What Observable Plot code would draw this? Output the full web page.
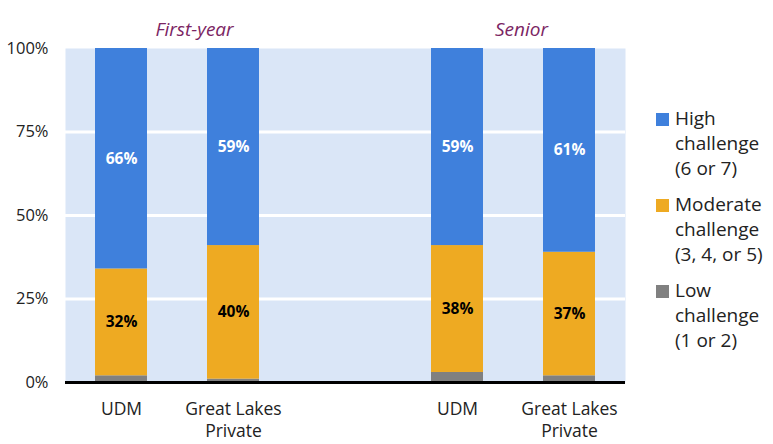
<!DOCTYPE html>
<html>
<head>
<meta charset="utf-8">
<script src="https://cdn.jsdelivr.net/npm/d3@7"></script>
<script src="https://cdn.jsdelivr.net/npm/@observablehq/plot@0.6"></script>
<style>
  body { margin: 0; background: #fff; font-family: "Open Sans", sans-serif; }
  #wrap { position: relative; width: 773px; height: 444px; }
  #legend { position: absolute; left: 656px; top: 106px; font-size: 19px; color: #222; line-height: 25px; }
  .item { display: flex; align-items: flex-start; margin-bottom: 11px; }
  .sw { width: 13px; height: 13px; margin-top: 7px; margin-right: 6px; flex: none; }
</style>
</head>
<body>
<div id="wrap"><div id="legend"></div></div>
<script>
const keys = ["FY-UDM", "FY-GLP", "SR-UDM", "SR-GLP"];
const xDomain = ["FY-UDM", "FY-GLP", "gap", "SR-UDM", "SR-GLP"];
const tickLabels = ["UDM", "Great Lakes\nPrivate", "", "UDM", "Great Lakes\nPrivate"];
const groupTitles = ["First-year", "Senior"];
const levels = ["Low", "Moderate", "High"];
const legendLabels = {
  High: ["High", "challenge", "(6 or 7)"],
  Moderate: ["Moderate", "challenge", "(3, 4, or 5)"],
  Low: ["Low", "challenge", "(1 or 2)"]
};
const colors = ["#808080", "#EEAA22", "#3F80DC"];
const low = [2, 1, 3, 2];
const moderate = [32, 40, 38, 37];
const high = [66, 59, 59, 61];

const data = [];
keys.forEach((k, i) => {
  data.push({key: k, level: "Low", value: low[i]});
  data.push({key: k, level: "Moderate", value: moderate[i]});
  data.push({key: k, level: "High", value: high[i]});
});

const chart = Plot.plot({
  width: 773,
  height: 444,
  marginLeft: 65,
  marginRight: 148,
  marginTop: 48,
  marginBottom: 62,
  style: {fontFamily: "'Open Sans', sans-serif", color: "#222", background: "white"},
  x: {domain: xDomain, paddingInner: 0.536, paddingOuter: 0.268, label: null},
  y: {domain: [0, 100], label: null},
  color: {domain: levels, range: colors},
  marks: [
    Plot.frame({fill: "#DAE6F7", stroke: null}),
    Plot.ruleY([25, 50, 75], {stroke: "white", strokeWidth: 3}),
    Plot.barY(data, Plot.stackY({x: "key", y: "value", z: "level", fill: "level", order: levels})),
    Plot.text(data, Plot.stackY({x: "key", y: "value", z: "level", order: levels,
      text: d => d.level === "High" ? d.value + "%" : null,
      fill: "white", fontWeight: "bold", fontSize: 15.5})),
    Plot.text(data, Plot.stackY({x: "key", y: "value", z: "level", order: levels,
      text: d => d.level === "Moderate" ? d.value + "%" : null,
      fill: "black", fontWeight: "bold", fontSize: 15.5})),
    Plot.ruleY([0], {stroke: "black", strokeWidth: 3}),
    Plot.axisY({ticks: [0, 25, 50, 75, 100], tickFormat: d => d + "%", tickSize: 0, tickPadding: 17, fontSize: 16.5, fill: "#222"}),
    Plot.axisX({tickSize: 0, tickPadding: 16, fontSize: 17.5, lineHeight: 1.3, fill: "#222",
      tickFormat: d => tickLabels[xDomain.indexOf(d)]}),
    Plot.text([groupTitles[0]], {x: () => keys[0], text: d => d, frameAnchor: "top", dy: -26, dx: 73,
      fontStyle: "italic", fill: "#7B2563", fontSize: 19}),
    Plot.text([groupTitles[1]], {x: () => keys[2], text: d => d, frameAnchor: "top", dy: -26, dx: 64,
      fontStyle: "italic", fill: "#7B2563", fontSize: 19})
  ]
});
document.getElementById("wrap").prepend(chart);

const legend = document.getElementById("legend");
["High", "Moderate", "Low"].forEach(l => {
  const item = document.createElement("div");
  item.className = "item";
  const sw = document.createElement("div");
  sw.className = "sw";
  sw.style.background = colors[levels.indexOf(l)];
  const t = document.createElement("div");
  t.innerHTML = legendLabels[l].join("<br>");
  item.append(sw, t);
  legend.append(item);
});
</script>
</body>
</html>
